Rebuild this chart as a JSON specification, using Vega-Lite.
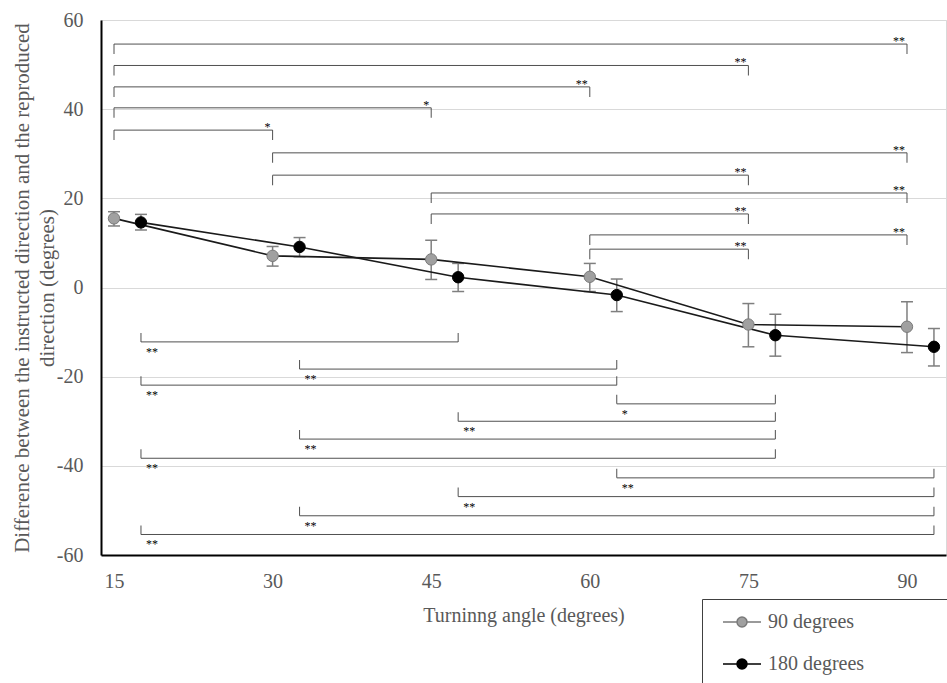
{
  "$schema": "https://vega.github.io/schema/vega-lite/v6.json",
  "width": 845,
  "height": 535,
  "autosize": {"type": "none"},
  "padding": {"left": 101, "top": 20, "right": 1, "bottom": 128},
  "background": "white",
  "config": {
    "view": {"stroke": "#d9d9d9", "strokeWidth": 1},
    "font": "Liberation Serif",
    "axisX": {
      "ticks": false,
      "grid": false,
      "domainColor": "#000000",
      "domainWidth": 2,
      "labelFont": "Liberation Serif",
      "labelFontSize": 20,
      "labelColor": "#595959",
      "labelPadding": 16,
      "titleFont": "Liberation Serif",
      "titleFontSize": 20,
      "titleFontWeight": "normal",
      "titleColor": "#595959",
      "titlePadding": 14
    },
    "axisY": {
      "ticks": false,
      "grid": true,
      "gridColor": "#d9d9d9",
      "gridWidth": 1,
      "domainColor": "#000000",
      "domainWidth": 2,
      "labelFont": "Liberation Serif",
      "labelFontSize": 20,
      "labelColor": "#595959",
      "labelPadding": 18,
      "titleFont": "Liberation Serif",
      "titleFontSize": 21,
      "titleFontWeight": "normal",
      "titleColor": "#595959",
      "titleLineHeight": 25
    }
  },
  "datasets": {
    "series": [
      {"angle": 15, "group": "90 degrees", "mean": 15.5, "lo": 13.8, "hi": 17.0},
      {"angle": 30, "group": "90 degrees", "mean": 7.1, "lo": 4.8, "hi": 9.2},
      {"angle": 45, "group": "90 degrees", "mean": 6.3, "lo": 1.8, "hi": 10.6},
      {"angle": 60, "group": "90 degrees", "mean": 2.4, "lo": -0.9, "hi": 5.4},
      {"angle": 75, "group": "90 degrees", "mean": -8.3, "lo": -13.3, "hi": -3.6},
      {"angle": 90, "group": "90 degrees", "mean": -8.8, "lo": -14.6, "hi": -3.2},
      {"angle": 15, "group": "180 degrees", "mean": 14.6, "lo": 12.9, "hi": 16.4},
      {"angle": 30, "group": "180 degrees", "mean": 9.1, "lo": 6.9, "hi": 11.2},
      {"angle": 45, "group": "180 degrees", "mean": 2.3, "lo": -0.9, "hi": 5.4},
      {"angle": 60, "group": "180 degrees", "mean": -1.7, "lo": -5.4, "hi": 1.9},
      {"angle": 75, "group": "180 degrees", "mean": -10.7, "lo": -15.4, "hi": -6.0},
      {"angle": 90, "group": "180 degrees", "mean": -13.3, "lo": -17.6, "hi": -9.2}
    ],
    "topb": [
      {"from": 15, "to": 90, "level": 54.6, "sig": "**"},
      {"from": 15, "to": 75, "level": 49.8, "sig": "**"},
      {"from": 15, "to": 60, "level": 45.0, "sig": "**"},
      {"from": 15, "to": 45, "level": 40.3, "sig": "*"},
      {"from": 15, "to": 30, "level": 35.3, "sig": "*"},
      {"from": 30, "to": 90, "level": 30.2, "sig": "**"},
      {"from": 30, "to": 75, "level": 25.2, "sig": "**"},
      {"from": 45, "to": 90, "level": 21.2, "sig": "**"},
      {"from": 45, "to": 75, "level": 16.5, "sig": "**"},
      {"from": 60, "to": 90, "level": 11.8, "sig": "**"},
      {"from": 60, "to": 75, "level": 8.6, "sig": "**"}
    ],
    "botb": [
      {"from": 15, "to": 45, "level": -12.2, "sig": "**"},
      {"from": 30, "to": 60, "level": -18.3, "sig": "**"},
      {"from": 15, "to": 60, "level": -21.9, "sig": "**"},
      {"from": 60, "to": 75, "level": -26.1, "sig": "*"},
      {"from": 45, "to": 75, "level": -30.0, "sig": "**"},
      {"from": 30, "to": 75, "level": -34.0, "sig": "**"},
      {"from": 15, "to": 75, "level": -38.3, "sig": "**"},
      {"from": 60, "to": 90, "level": -42.7, "sig": "**"},
      {"from": 45, "to": 90, "level": -46.9, "sig": "**"},
      {"from": 30, "to": 90, "level": -51.2, "sig": "**"},
      {"from": 15, "to": 90, "level": -55.4, "sig": "**"}
    ]
  },
  "encoding": {
    "x": {
      "field": "xp",
      "type": "quantitative",
      "scale": {"domain": [13.77, 93.69], "nice": false, "zero": false},
      "axis": {"title": "Turninng angle (degrees)", "values": [15, 30, 45, 60, 75, 90]}
    },
    "y": {
      "field": "yv",
      "type": "quantitative",
      "scale": {"domain": [-60, 60], "nice": false, "zero": false},
      "axis": {
        "title": ["Difference between the instructed direction and the reproduced", "direction (degrees)"],
        "values": [-60, -40, -20, 0, 20, 40, 60],
        "labelExpr": "'' + datum.value",
        "titleX": -69,
        "titleY": 267.5
      }
    }
  },
  "layer": [
    {
      "data": {"name": "topb"},
      "transform": [
        {"calculate": "datum.from", "as": "xp"},
        {"calculate": "datum.level", "as": "yv"}
      ],
      "mark": {"type": "rule", "color": "#505050", "strokeWidth": 1},
      "encoding": {"x2": {"field": "to"}}
    },
    {
      "data": {"name": "topb"},
      "transform": [
        {"fold": ["from", "to"], "as": ["end", "xp"]},
        {"calculate": "datum.level", "as": "yv"}
      ],
      "mark": {"type": "tick", "orient": "vertical", "size": 10, "thickness": 1, "yOffset": 5, "color": "#505050", "opacity": 1}
    },
    {
      "data": {"name": "topb"},
      "transform": [
        {"calculate": "datum.to", "as": "xp"},
        {"calculate": "datum.level", "as": "yv"}
      ],
      "mark": {"type": "text", "align": "right", "baseline": "alphabetic", "dx": -2, "dy": 1, "fontSize": 12, "font": "Liberation Serif", "color": "#000000"},
      "encoding": {"text": {"field": "sig"}}
    },
    {
      "data": {"name": "botb"},
      "transform": [
        {"calculate": "datum.from + 2.55", "as": "xp"},
        {"calculate": "datum.to + 2.55", "as": "xe"},
        {"calculate": "datum.level", "as": "yv"}
      ],
      "mark": {"type": "rule", "color": "#505050", "strokeWidth": 1},
      "encoding": {"x2": {"field": "xe"}}
    },
    {
      "data": {"name": "botb"},
      "transform": [
        {"fold": ["from", "to"], "as": ["end", "ang"]},
        {"calculate": "datum.ang + 2.55", "as": "xp"},
        {"calculate": "datum.level", "as": "yv"}
      ],
      "mark": {"type": "tick", "orient": "vertical", "size": 9, "thickness": 1, "yOffset": -4.5, "color": "#505050", "opacity": 1}
    },
    {
      "data": {"name": "botb"},
      "transform": [
        {"calculate": "datum.from + 2.55", "as": "xp"},
        {"calculate": "datum.level", "as": "yv"}
      ],
      "mark": {"type": "text", "align": "left", "baseline": "alphabetic", "dx": 5, "dy": 14, "fontSize": 12, "font": "Liberation Serif", "color": "#000000"},
      "encoding": {"text": {"field": "sig"}}
    },
    {
      "data": {"name": "series"},
      "transform": [
        {"calculate": "datum.angle + (datum.group === '180 degrees' ? 2.55 : 0)", "as": "xp"},
        {"calculate": "datum.lo", "as": "yv"}
      ],
      "mark": {"type": "rule", "color": "#7f7f7f", "strokeWidth": 1.5},
      "encoding": {"y2": {"field": "hi"}}
    },
    {
      "data": {"name": "series"},
      "transform": [
        {"calculate": "datum.angle + (datum.group === '180 degrees' ? 2.55 : 0)", "as": "xp"},
        {"fold": ["lo", "hi"], "as": ["k", "yv"]}
      ],
      "mark": {"type": "tick", "orient": "horizontal", "size": 12, "thickness": 1.5, "color": "#7f7f7f", "opacity": 1}
    },
    {
      "data": {"name": "series"},
      "transform": [
        {"calculate": "datum.angle + (datum.group === '180 degrees' ? 2.55 : 0)", "as": "xp"},
        {"calculate": "datum.mean", "as": "yv"}
      ],
      "mark": {"type": "line", "color": "#1a1a1a", "strokeWidth": 1.6},
      "encoding": {"detail": {"field": "group"}}
    },
    {
      "data": {"name": "series"},
      "transform": [
        {"calculate": "datum.angle + (datum.group === '180 degrees' ? 2.55 : 0)", "as": "xp"},
        {"calculate": "datum.mean", "as": "yv"}
      ],
      "mark": {"type": "circle", "size": 130, "strokeWidth": 1, "opacity": 1},
      "encoding": {
        "fill": {
          "field": "group",
          "type": "nominal",
          "scale": {"domain": ["90 degrees", "180 degrees"], "range": ["#a0a0a0", "#000000"]},
          "legend": {
            "orient": "none",
            "legendX": 601,
            "legendY": 579,
            "title": "\u00a0",
            "titleOrient": "right",
            "titlePadding": 280,
            "titleColor": "#ffffff",
            "titleFontSize": 4,
            "padding": 13,
            "strokeColor": "#404040",
            "fillColor": "white",
            "symbolType": "M-3.8,0H-1M1,0H3.8M-1,0A1,1 0 1,1 1,0A1,1 0 1,1 -1,0Z",
            "symbolSize": 100,
            "symbolStrokeWidth": 1.5,
            "symbolStrokeColor": "#404040",
            "symbolOffset": 17,
            "labelOffset": 16,
            "labelFont": "Liberation Serif",
            "labelFontSize": 20,
            "labelColor": "#595959",
            "labelLimit": 800,
            "rowPadding": 22,
            "encode": {"symbols": {"update": {"stroke": {"value": "#404040"}, "strokeWidth": {"value": 1.5}, "opacity": {"value": 1}}}}
          }
        },
        "stroke": {
          "field": "group",
          "type": "nominal",
          "scale": {"domain": ["90 degrees", "180 degrees"], "range": ["#7a7a7a", "#000000"]},
          "legend": null
        }
      }
    }
  ]
}
